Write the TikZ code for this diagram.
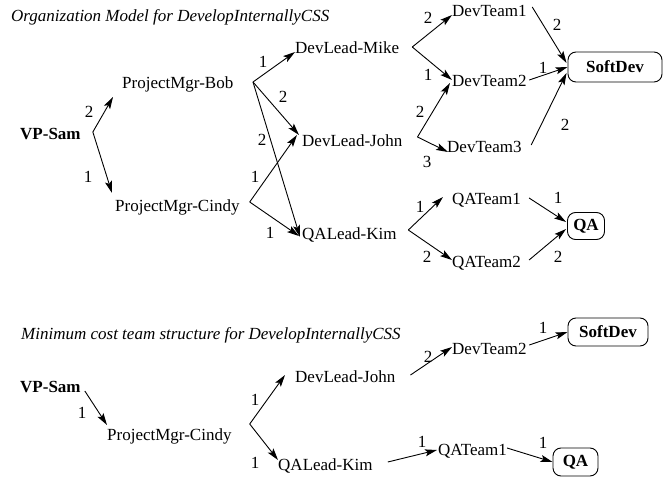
\documentclass[tikz,border=0pt]{standalone}
\usepackage{fontspec}
\setmainfont{Liberation Serif}
\usetikzlibrary{arrows.meta,calc}

\tikzset{
  txt/.style={inner sep=0pt, anchor=base west, font=\fontsize{17}{20}\selectfont},
  head/.style={txt, font=\fontsize{17}{20}\selectfont\bfseries},
  ttl/.style={txt, font=\fontsize{17}{20}\selectfont\itshape},
  cost/.style={inner sep=0pt, font=\fontsize{17}{20}\selectfont},
  unit/.style={draw, rounded corners=8pt, inner sep=0pt, line width=0.9pt,
               font=\fontsize{17}{20}\selectfont\bfseries},
  arr/.style={line width=0.9pt, -{Stealth[length=12pt,width=7pt,inset=2.5pt]}}
}

\begin{document}
\begin{tikzpicture}[x=1pt,y=-1pt]
\useasboundingbox (0,0) rectangle (667,478);

% ---------------- full organization model ----------------
\node[ttl] (t1) at (11,22) {Organization Model for DevelopInternallyCSS};

\node[head] (sam)   at (20,140)  {VP-Sam};
\node[txt]  (bob)   at (122,89)  {ProjectMgr-Bob};
\node[txt]  (cindy) at (115,212) {ProjectMgr-Cindy};
\node[txt]  (mike)  at (295,54)  {DevLead-Mike};
\node[txt]  (john)  at (302,147) {DevLead-John};
\node[txt]  (kim)   at (302,240) {QALead-Kim};
\node[txt]  (dt1)   at (452,17)  {DevTeam1};
\node[txt]  (dt2)   at (452,87)  {DevTeam2};
\node[txt]  (dt3)   at (447,153) {DevTeam3};
\node[txt]  (qa1)   at (452,205) {QATeam1};
\node[txt]  (qa2)   at (452,268) {QATeam2};
\node[unit, minimum width=94pt, minimum height=30pt] (sd) at (615,67)  {SoftDev};
\node[unit, minimum width=37pt, minimum height=27pt] (qa) at (586,226) {QA};

% vertices where the connectors leave each node
\coordinate (samO)   at ($(sam.base east)+(12,-8)$);
\coordinate (bobO)   at ($(bob.base east)+(19.5,-7)$);
\coordinate (cindyO) at ($(cindy.base east)+(10,-10)$);
\coordinate (mikeO)  at ($(mike.base east)+(13,-7)$);
\coordinate (johnO)  at ($(john.base east)+(15,-10)$);
\coordinate (kimO)   at ($(kim.base east)+(11.5,-10)$);

\draw[arr] (samO) -- ($(bob.base west)+(-9,8)$);
\draw[arr] (samO) -- ($(cindy.base west)+(-3,-19)$);
\draw[arr] (bobO) -- ($(mike.base west)+(0,-2)$);
\draw[arr] (bobO) -- ($(john.base west)+(-3,-12)$);
\draw[arr] (bobO) -- ($(kim.base west)+(-2,-3)$);
\draw[arr] (cindyO) -- ($(john.base west)+(-5,-12)$);
\draw[arr] (cindyO) -- ($(kim.base west)+(-3,-4)$);
\draw[arr] (mikeO) -- ($(dt1.base west)+(0,-2)$);
\draw[arr] (mikeO) -- ($(dt2.base west)+(0,-7)$);
\draw[arr] (johnO) -- ($(dt2.base west)+(-2,-4)$);
\draw[arr] (johnO) -- ($(dt3.base west)+(1,-1)$);
\draw[arr] ($(dt1.base east)+(5.5,-10)$) -- ($(sd.west)+(-1,-4)$);
\draw[arr] ($(dt2.base east)+(2.5,-7)$) -- (sd.west);
\draw[arr] ($(dt3.base east)+(9.5,-8)$) -- ($(sd.west)+(-1,6)$);
\draw[arr] (kimO) -- ($(qa1.base west)+(-9,-8)$);
\draw[arr] (kimO) -- ($(qa2.base west)+(0,-8)$);
\draw[arr] ($(qa1.base east)+(8,-7)$) -- ($(qa.west)+(-1,-4)$);
\draw[arr] ($(qa2.base east)+(8,-8)$) -- ($(qa.west)+(-1,3)$);

% costs
\node[cost] (c1)  at (89,112)  {2};
\node[cost] (c2)  at (88,177)  {1};
\node[cost] (c3)  at (263,62)  {1};
\node[cost] (c4)  at (283,97)  {2};
\node[cost] (c5)  at (262,140) {2};
\node[cost] (c6)  at (255,177) {1};
\node[cost] (c7)  at (270,233) {1};
\node[cost] (c8)  at (428,18)  {2};
\node[cost] (c9)  at (428,75)  {1};
\node[cost] (c10) at (420,112) {2};
\node[cost] (c11) at (427,162) {3};
\node[cost] (c12) at (557,25)  {2};
\node[cost] (c13) at (543,68)  {1};
\node[cost] (c14) at (565,125) {2};
\node[cost] (c15) at (420,207) {1};
\node[cost] (c16) at (427,257) {2};
\node[cost] (c17) at (558,198) {1};
\node[cost] (c18) at (558,257) {2};

% ---------------- minimum cost structure ----------------
\node[ttl] (t2) at (21,340) {Minimum cost team structure for DevelopInternallyCSS};

\node[head] (samB)   at (20,392)  {VP-Sam};
\node[txt]  (cindyB) at (107,440) {ProjectMgr-Cindy};
\node[txt]  (johnB)  at (295,383) {DevLead-John};
\node[txt]  (kimB)   at (278,470) {QALead-Kim};
\node[txt]  (dtB)    at (452,355) {DevTeam2};
\node[txt]  (qaB1)   at (438,455) {QATeam1};
\node[unit, minimum width=80pt, minimum height=28pt] (sdB) at (608,332)   {SoftDev};
\node[unit, minimum width=45pt, minimum height=28pt] (qaB) at (575.5,462) {QA};

\coordinate (cindyBO) at ($(cindyB.base east)+(18,-16)$);

\draw[arr] ($(samB.base east)+(4,-1)$) -- ($(cindyB.base west)+(0,-15)$);
\draw[arr] (cindyBO) -- ($(johnB.base west)+(-10,-8)$);
\draw[arr] (cindyBO) -- ($(kimB.base west)+(0,-10)$);
\draw[arr] ($(johnB.base east)+(15,-8)$) -- ($(dtB.base west)+(0,-8)$);
\draw[arr] ($(dtB.base east)+(2.5,-10)$) -- (sdB.west);
\draw[arr] ($(kimB.base east)+(15,-8)$) -- ($(qaB1.base west)+(-1,-5)$);
\draw[arr] ($(qaB1.base east)+(0,-7)$) -- (qaB.west);

\node[cost] (d1) at (82,413)  {1};
\node[cost] (d2) at (255,400) {1};
\node[cost] (d3) at (255,463) {1};
\node[cost] (d4) at (428,357) {2};
\node[cost] (d5) at (543,328) {1};
\node[cost] (d6) at (422,442) {1};
\node[cost] (d7) at (543,443) {1};
\end{tikzpicture}
\end{document}
